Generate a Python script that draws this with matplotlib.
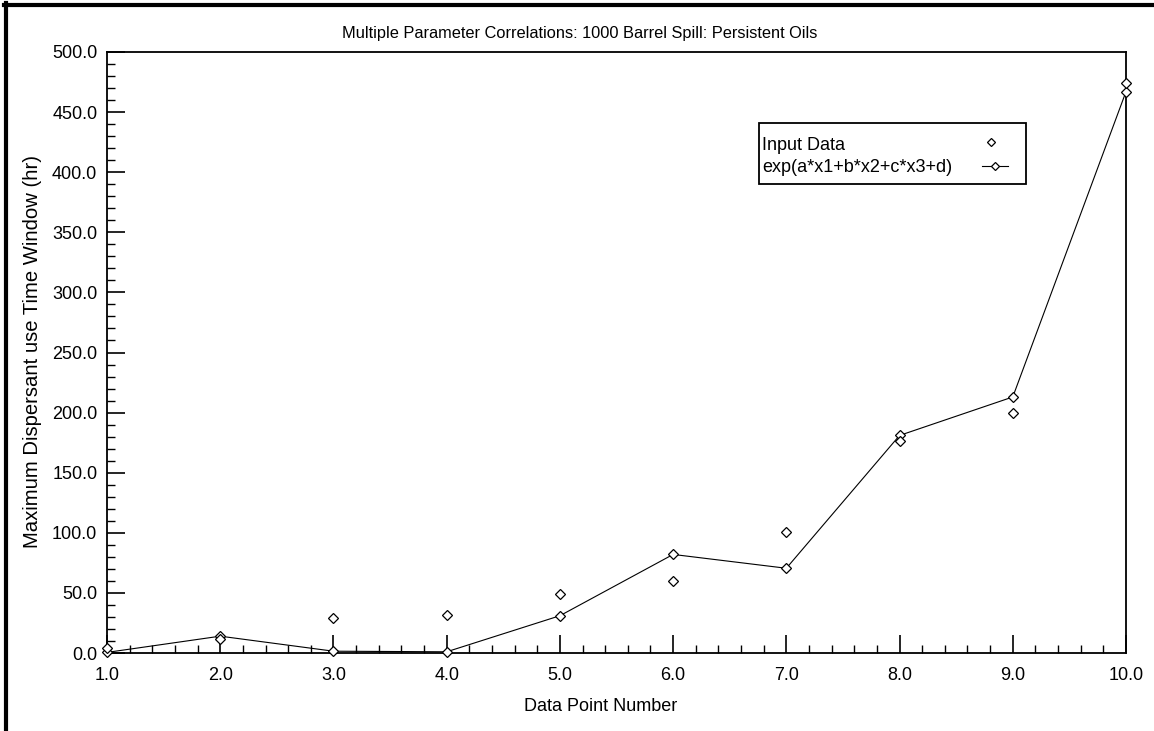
#Recreate: Multiple Parameter Correlations, 1000 barrel spill, persistent oils
import numpy as np
import matplotlib.pyplot as plt
from matplotlib.ticker import MultipleLocator, FormatStrFormatter
from matplotlib.lines import Line2D
from matplotlib.patches import Rectangle

plt.rcParams['font.family'] = ['Liberation Sans', 'DejaVu Sans']

#data
point_number = [1, 2, 3, 4, 5, 6, 7, 8, 9, 10]
input_data = [4.5, 11.5, 29, 31.5, 49, 60, 101, 176, 200, 474]
fitted = [0.5, 14, 1.5, 1, 31, 82, 70.5, 181, 213, 467]
legend_labels = ['Input Data', 'exp(a*x1+b*x2+c*x3+d)']

W, H = 1154.0, 731.0

def fx(x):
	return x / W

def fy(y):
	return 1 - y / H

def make_plot():
	fig = plt.figure(figsize=(11.54, 7.31), dpi=100)
	ax = fig.add_axes([fx(107), fy(653), (1126 - 107) / W, (653 - 52) / H])

	ax.plot(point_number, fitted, color='black', lw=0.8, marker='D', ms=5,
		mfc='white', mec='black', mew=0.9, clip_on=False, zorder=3)
	ax.plot(point_number, input_data, ls='none', marker='D', ms=5,
		mfc='white', mec='black', mew=0.9, clip_on=False, zorder=4)

	ax.set_xlim(1, 10)
	ax.set_ylim(0, 500)
	ax.xaxis.set_major_locator(MultipleLocator(1))
	ax.xaxis.set_minor_locator(MultipleLocator(0.2))
	ax.yaxis.set_major_locator(MultipleLocator(50))
	ax.yaxis.set_minor_locator(MultipleLocator(10))
	ax.xaxis.set_major_formatter(FormatStrFormatter('%.1f'))
	ax.yaxis.set_major_formatter(FormatStrFormatter('%.1f'))
	ax.tick_params(which='major', direction='in', length=13, width=1.2, labelsize=13, color='black')
	ax.tick_params(which='minor', direction='in', length=6, width=1.0)
	ax.tick_params(axis='x', pad=10)
	ax.tick_params(axis='y', pad=7)
	for s in ax.spines.values():
		s.set_linewidth(1.3)

	#title and axis labels, placed where they sit in the original screenshot
	fig.text(fx(580), fy(38), 'Multiple Parameter Correlations: 1000 Barrel Spill: Persistent Oils',
		fontsize=11.8, ha='center', va='baseline')
	fig.text(fx(601), fy(711), 'Data Point Number', fontsize=13, ha='center', va='baseline')
	fig.text(fx(33), fy(352), 'Maximum Dispersant use Time Window (hr)', fontsize=14.6,
		rotation=90, ha='center', va='center')

	#legend box drawn by hand so the labels stay left aligned
	fig.add_artist(Rectangle((fx(759), fy(184)), (1026 - 759) / W, (184 - 123) / H,
		transform=fig.transFigure, facecolor='white', edgecolor='black', lw=1.3, zorder=5))
	fig.text(fx(762), fy(150), legend_labels[0], fontsize=13, ha='left', va='baseline', zorder=6)
	fig.text(fx(762), fy(172), legend_labels[1], fontsize=13, ha='left', va='baseline', zorder=6)
	fig.add_artist(Line2D([fx(991)], [fy(142)], ls='none', marker='D', ms=4.5, mfc='white',
		mec='black', mew=0.9, transform=fig.transFigure, zorder=6))
	fig.add_artist(Line2D([fx(982), fx(995), fx(1008)], [fy(166)] * 3, color='black', lw=0.8,
		marker='D', ms=4.5, markevery=[1], mfc='white', mec='black', mew=0.9,
		transform=fig.transFigure, zorder=6))

	#black frame along top and left of the picture
	fig.add_artist(Line2D([fx(4), 1.0], [fy(4.5), fy(4.5)], color='black', lw=3, transform=fig.transFigure))
	fig.add_artist(Line2D([fx(6), fx(6)], [0.0, fy(3)], color='black', lw=3, transform=fig.transFigure))

	plt.savefig('out.png', dpi=100)

make_plot()
